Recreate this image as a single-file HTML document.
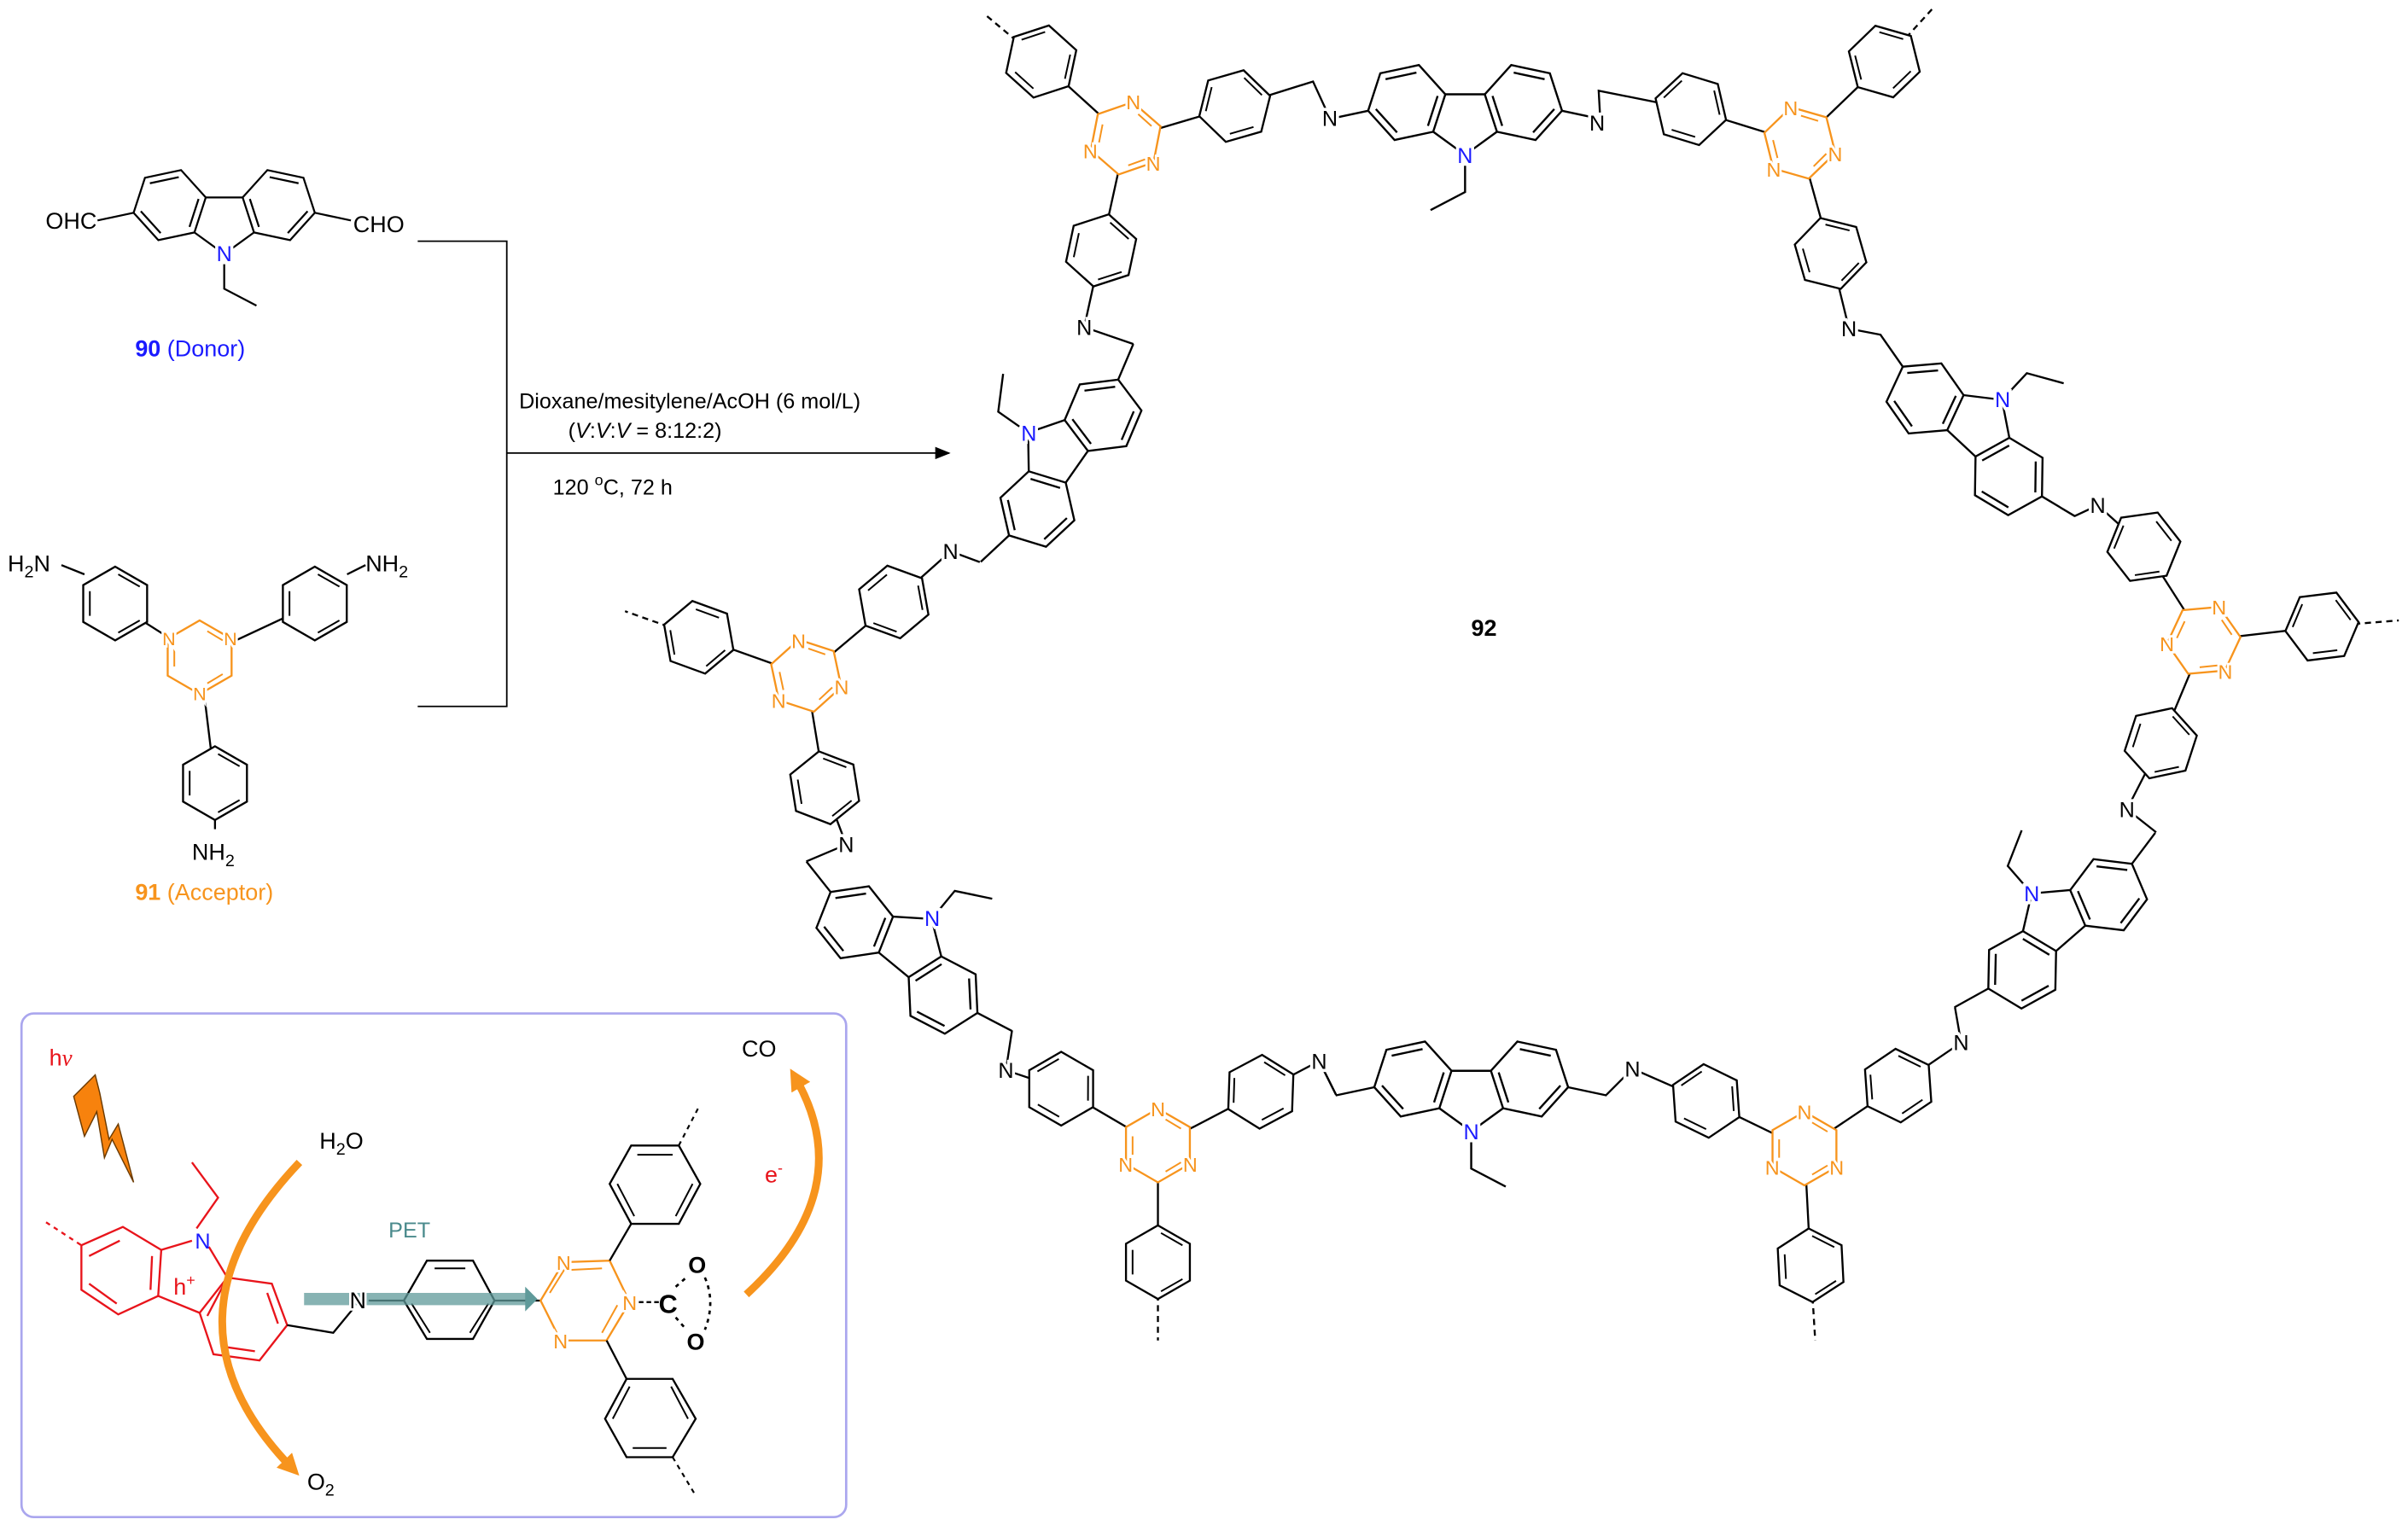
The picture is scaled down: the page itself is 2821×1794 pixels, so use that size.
<!DOCTYPE html>
<html><head><meta charset="utf-8"><style>
html,body{margin:0;padding:0;background:#fff}
svg{display:block}
text{font-family:"Liberation Sans",sans-serif}
</style></head><body>
<svg width="2821" height="1794" viewBox="0 0 1568 997" xmlns="http://www.w3.org/2000/svg">
<defs>
<g id="hv"><polygon points="0,-24 20.8,-12 20.8,12 0,24 -20.8,12 -20.8,-12" fill="#fff" stroke="#000" stroke-width="1.3"/><path d="M2,-19 L16,-11 M16,11 L2,19 M-16.5,8 L-16.5,-8" stroke="#000" stroke-width="1.1" fill="none"/></g>
<g id="hh"><polygon points="-24,0 -12,20.8 12,20.8 24,0 12,-20.8 -12,-20.8" fill="#fff" stroke="#000" stroke-width="1.3"/><path d="M-9,-16.5 L9,-16.5 M-19,2 L-11,16 M19,2 L11,16" stroke="#000" stroke-width="1.1" fill="none"/></g>
<g id="tz"><polygon points="0,-24 20.8,-12 20.8,12 0,24 -20.8,12 -20.8,-12" fill="#fff" stroke="#f7941d" stroke-width="1.3"/><path d="M5,-17 L15,-11 M15,11 L5,17 M-16.5,6 L-16.5,-6" stroke="#f7941d" stroke-width="1.1" fill="none"/></g>
<g id="cz" fill="none" stroke="#000" stroke-width="1.25">
<polygon points="12,-16.5 28.1,-34.3 51.6,-29.3 59,-6.5 42.9,11.3 19.4,6.3" fill="#fff"/>
<polygon points="-12,-16.5 -28.1,-34.3 -51.6,-29.3 -59,-6.5 -42.9,11.3 -19.4,6.3" fill="#fff"/>
<path d="M29.6,-29.7 L48.4,-25.7 M54.3,-7.5 L41.4,6.7 M22.6,2.7 L16.7,-15.5 M-29.6,-29.7 L-48.4,-25.7 M-54.3,-7.5 L-41.4,6.7 M-22.6,2.7 L-16.7,-15.5"/>
<path d="M-12,-16.5 L12,-16.5 M19.4,6.3 L0,20.4 L-19.4,6.3 M59,-6.5 L82.5,-1.5 M-59,-6.5 L-82.5,-1.5 M0,27 L0,43 L-21,54"/>
</g>
<marker id="ar" markerWidth="10" markerHeight="8" refX="9" refY="4" orient="auto" markerUnits="userSpaceOnUse"><path d="M0,0 L10,4 L0,8 z" fill="#000"/></marker>
<marker id="oa" markerWidth="14" markerHeight="14" refX="7" refY="7" orient="auto" markerUnits="userSpaceOnUse"><path d="M0,0 L14,7 L0,14 z" fill="#f7941d"/></marker>
</defs>

<!-- reactant 90 -->
<use href="#cz" transform="translate(146,145) scale(-1,1)"/>
<text x="63" y="149" font-size="15" text-anchor="end">OHC</text>
<text x="230" y="151" font-size="15">CHO</text>
<text x="146" y="170" font-size="14" fill="#1a1aff" text-anchor="middle" stroke="#fff" stroke-width="4" paint-order="stroke">N</text>
<text x="88" y="232" font-size="15" fill="#1a1aff"><tspan font-weight="bold">90</tspan> (Donor)</text>

<!-- reactant 91 -->
<g stroke="#000" stroke-width="1.3" fill="none">
<path d="M40,368 L55,374 M75,393 L130,428 L205,393 M226,374 L238,368 M130,428 L140,510 L140,540"/>
</g>
<use href="#hv" x="75" y="393"/><use href="#hv" x="205" y="393"/><use href="#hv" x="140" y="510"/>
<use href="#tz" x="130" y="428"/>
<text x="5" y="372" font-size="15">H<tspan font-size="11" dy="4">2</tspan><tspan dy="-4">N</tspan></text>
<text x="238" y="372" font-size="15">NH<tspan font-size="11" dy="4">2</tspan></text>
<text x="125" y="560" font-size="15">NH<tspan font-size="11" dy="4">2</tspan></text>
<g font-size="12" fill="#f7941d" text-anchor="middle" stroke="#fff" stroke-width="3" paint-order="stroke"><text x="110" y="420">N</text><text x="150" y="420">N</text><text x="130" y="456">N</text></g>
<text x="88" y="586" font-size="15" fill="#f7941d"><tspan font-weight="bold">91</tspan> (Acceptor)</text>

<!-- bracket and arrow -->
<path d="M272,157 L330,157 L330,460 L272,460 M330,295 L618,295" stroke="#000" stroke-width="1" fill="none" marker-end="url(#ar)"/>
<text x="338" y="266" font-size="14">Dioxane/mesitylene/AcOH (6 mol/L)</text>
<text x="370" y="285" font-size="14">(<tspan font-style="italic">V</tspan>:<tspan font-style="italic">V</tspan>:<tspan font-style="italic">V</tspan> = 8:12:2)</text>
<text x="360" y="322" font-size="14">120 <tspan font-size="10" dy="-6">o</tspan><tspan dy="6">C, 72 h</tspan></text>

<!-- macrocycle bonds -->
<g stroke="#000" stroke-width="1.3" fill="none">
<path d="M678,40 L733,90 L804,69 L855,53 L866,77"/>
<path d="M1042,77 L1041,59 L1101,71 L1172,93 L1227,40"/>
<path d="M733,90 L717,163 L706,213 L738,224"/>
<path d="M1172,93 L1192,165 L1204,214 L1225,218"/>
<path d="M638,366 L619,359 L582,392 L525,440 L455,415 M525,440 L537,513 L551,550 L525,561"/>
<path d="M659,671 L655,697 L691,709 L754,746 L821,711 L859,691 L870,713 M754,746 L754,822"/>
<path d="M1046,713 L1063,696 L1111,717 L1175,748 L1236,707 L1277,679 L1273,656 M1175,748 L1179,824"/>
<path d="M1404,542 L1385,527 L1407,484 L1435,417 L1512,408 M1435,417 L1396,356 L1366,329 L1351,336"/>
<path d="M859,691 L870,713"/>
</g>
<g stroke="#000" stroke-width="1.3" fill="none" stroke-dasharray="4,3">
<path d="M678,40 L641,9 M1227,40 L1258,6 M455,415 L407,398 M754,822 L754,873 M1179,824 L1182,873 M1512,408 L1562,404"/>
</g>
<!-- carbazoles -->
<use href="#cz" transform="translate(954,79) scale(1.07)"/>
<use href="#cz" transform="translate(958,715) scale(-1.07,1.07)"/>
<use href="#cz" transform="translate(687,294) rotate(125) scale(1.05)"/>
<use href="#cz" transform="translate(593,615) rotate(219.5) scale(1.05)"/>
<use href="#cz" transform="translate(1289,276) rotate(223) scale(1.05)"/>
<use href="#cz" transform="translate(1337,598) rotate(139) scale(1.05)"/>
<!-- phenyls -->
<use href="#hv" transform="translate(678,40) rotate(-48)"/>
<use href="#hv" transform="translate(804,69) rotate(-106)"/>
<use href="#hv" transform="translate(1101,71) rotate(-73)"/>
<use href="#hv" transform="translate(1227,40) rotate(-134)"/>
<use href="#hv" transform="translate(717,163) rotate(12)"/>
<use href="#hv" transform="translate(1192,165) rotate(-16)"/>
<use href="#hv" transform="translate(582,392) rotate(50)"/>
<use href="#hv" transform="translate(455,415) rotate(110)"/>
<use href="#hv" transform="translate(537,513) rotate(-9)"/>
<use href="#hv" transform="translate(691,709) rotate(-60)"/>
<use href="#hv" transform="translate(821,711) rotate(-118)"/>
<use href="#hv" transform="translate(1111,717) rotate(-64)"/>
<use href="#hv" transform="translate(1236,707) rotate(-124)"/>
<use href="#hv" transform="translate(754,822)"/>
<use href="#hv" transform="translate(1179,824) rotate(-3)"/>
<use href="#hv" transform="translate(1407,484) rotate(18)"/>
<use href="#hv" transform="translate(1512,408) rotate(-97)"/>
<use href="#hv" transform="translate(1396,356) rotate(142)"/>
<!-- triazines -->
<use href="#tz" transform="translate(733,90) rotate(11)"/>
<use href="#tz" transform="translate(1172,93) rotate(-14)"/>
<use href="#tz" transform="translate(525,440) rotate(-12)"/>
<use href="#tz" transform="translate(754,746)"/>
<use href="#tz" transform="translate(1175,748)"/>
<use href="#tz" transform="translate(1435,417) rotate(25)"/>
<g font-size="13" fill="#f7941d" text-anchor="middle" stroke="#fff" stroke-width="3" paint-order="stroke">
<text x="738" y="71">N</text><text x="751" y="111">N</text><text x="710" y="103">N</text>
<text x="1166" y="75">N</text><text x="1195" y="105">N</text><text x="1155" y="115">N</text>
<text x="520" y="422">N</text><text x="548" y="452">N</text><text x="507" y="461">N</text>
<text x="754" y="727">N</text><text x="775" y="763">N</text><text x="733" y="763">N</text>
<text x="1175" y="729">N</text><text x="1196" y="765">N</text><text x="1154" y="765">N</text>
<text x="1445" y="400">N</text><text x="1449" y="442">N</text><text x="1411" y="424">N</text>
</g>
<g font-size="14" fill="#000" text-anchor="middle" stroke="#fff" stroke-width="4" paint-order="stroke">
<text x="866" y="82">N</text><text x="1040" y="85">N</text>
<text x="706" y="218">N</text><text x="1204" y="219">N</text>
<text x="619" y="364">N</text><text x="551" y="555">N</text>
<text x="655" y="702">N</text><text x="859" y="696">N</text><text x="1063" y="701">N</text><text x="1277" y="684">N</text>
<text x="1385" y="532">N</text><text x="1366" y="334">N</text>
</g>
<g font-size="14" fill="#1a1aff" text-anchor="middle" stroke="#fff" stroke-width="4" paint-order="stroke">
<text x="954" y="106">N</text><text x="958" y="742">N</text><text x="670" y="287">N</text><text x="607" y="603">N</text><text x="1304" y="265">N</text><text x="1323" y="587">N</text>
</g>
<text x="958" y="414" font-size="15" font-weight="bold">92</text>

<!-- bottom box -->
<rect x="14" y="660" width="537" height="328" rx="8" fill="#fff" stroke="#aaa6ee" stroke-width="1.5"/>
<text x="32" y="694" font-size="15" fill="#e8141b">h<tspan font-family="Liberation Serif" font-style="italic">ν</tspan></text>
<path d="M62,700 L48,714 L55,740 L63,724 L68,754 L73,742 L87,770 L77,732 L71,742 L65,712 Z" fill="#f7820d" stroke="#6b3a00" stroke-width="0.8"/>
<text x="208" y="748" font-size="15">H<tspan font-size="11" dy="4">2</tspan><tspan dy="-4">O</tspan></text>
<g stroke="#e8141b" stroke-width="1.3" fill="none">
<path d="M30,796 L53,811" stroke-dasharray="3,3"/>
<polygon points="53,811 80,799 105,814 103,844 77,856 53,840"/>
<path d="M58,818 L78,808 M99,818 L98,840 M58,836 L76,849"/>
<path d="M105,814 L125,808 M136,812 L148,832 M103,844 L130,855"/>
<polygon points="148,832 177,836 187,863 169,886 139,882 130,855"/>
<path d="M174,842 L181,862 M145,877 L166,880 M135,857 L146,836"/>
<path d="M128,800 L142,780 L125,757"/>
</g>
<path d="M187,863 L217,868 L231,851" stroke="#000" stroke-width="1.3" fill="none"/>
<text x="132" y="813" font-size="14" fill="#1a1aff" text-anchor="middle">N</text>
<text x="113" y="843" font-size="15" fill="#e8141b">h<tspan font-size="10" dy="-6">+</tspan></text>
<text x="253" y="806" font-size="14" fill="#4a8a8c">PET</text>
<path d="M240,847 L263,847 M322,847 L352,847" stroke="#000" stroke-width="1.3"/>
<polygon points="263,847 278,821 308,821 322,847 308,872 278,872" fill="#fff" stroke="#000" stroke-width="1.3"/>
<path d="M283,826 L303,826 M268,849 L280,868 M318,849 L306,868" stroke="#000" stroke-width="1.1"/>
<rect x="198" y="842" width="145" height="8" fill="#5f9a9a" opacity="0.75"/>
<polygon points="342,838 350,846 342,854" fill="#5f9a9a"/>
<text x="233" y="852" font-size="15" text-anchor="middle" stroke="#fff" stroke-width="3" paint-order="stroke">N</text>
<polygon points="352,847 367,822 397,821 410,848 395,873 365,873" fill="none" stroke="#f7941d" stroke-width="1.3"/>
<path d="M358,842 L368,826 M392,868 L402,850 M372,827 L392,826" stroke="#f7941d" stroke-width="1.1"/>
<g font-size="13" fill="#f7941d" text-anchor="middle" stroke="#fff" stroke-width="3" paint-order="stroke"><text x="367" y="827">N</text><text x="410" y="853">N</text><text x="365" y="878">N</text></g>
<path d="M397,821 L411,797 M395,873 L408,898" stroke="#000" stroke-width="1.3"/>
<polygon points="411,746 442,746 456,771 442,797 411,797 397,771" fill="#fff" stroke="#000" stroke-width="1.3"/>
<path d="M415,752 L438,752 M402,771 L413,792 M451,771 L440,792" stroke="#000" stroke-width="1.1"/>
<polygon points="408,898 438,898 453,924 438,949 408,949 394,924" fill="#fff" stroke="#000" stroke-width="1.3"/>
<path d="M412,943 L434,943 M399,924 L410,903 M448,924 L437,903" stroke="#000" stroke-width="1.1"/>
<path d="M442,746 L455,721 M438,949 L453,974" stroke="#000" stroke-width="1.2" stroke-dasharray="3,3"/>
<path d="M416,848 L430,848" stroke="#000" stroke-width="1.3" stroke-dasharray="3,2"/>
<text x="435" y="855" font-size="17" font-weight="bold" text-anchor="middle">C</text>
<text x="454" y="829" font-size="15" font-weight="bold" text-anchor="middle">O</text>
<text x="453" y="879" font-size="15" font-weight="bold" text-anchor="middle">O</text>
<path d="M440,838 L448,831 M440,858 L447,866 M459,832 Q466,848 459,866" stroke="#000" stroke-width="1.5" fill="none" stroke-dasharray="2.5,3"/>
<text x="483" y="688" font-size="15">CO</text>
<text x="498" y="770" font-size="15" fill="#e8141b">e<tspan font-size="10" dy="-6">-</tspan></text>
<path d="M486,843 Q560,775 518,702" stroke="#f7941d" stroke-width="5" fill="none" marker-end="url(#oa)"/>
<path d="M195,757 Q97,860 190,956" stroke="#f7941d" stroke-width="5" fill="none" marker-end="url(#oa)"/>
<text x="200" y="970" font-size="15">O<tspan font-size="11" dy="4">2</tspan></text>
</svg>
</body></html>
